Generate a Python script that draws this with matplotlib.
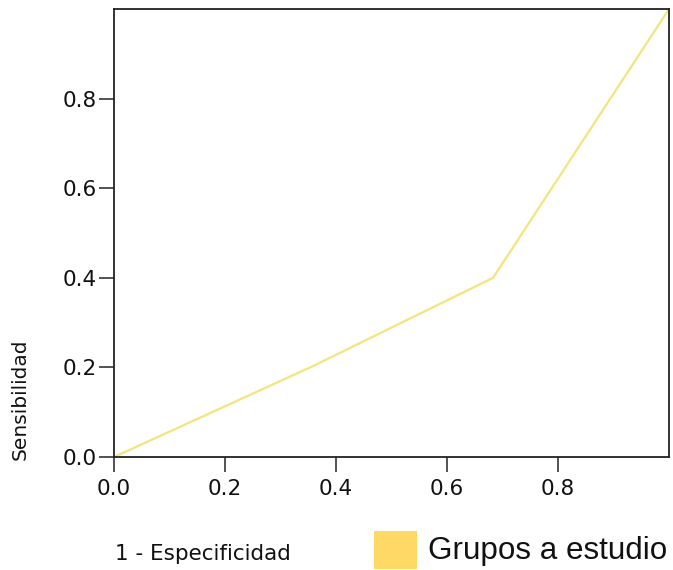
import matplotlib
matplotlib.use("Agg")
import matplotlib.pyplot as plt
from matplotlib.patches import Rectangle

# curva ROC (1 - especificidad, sensibilidad)
fpr = [0.0, 0.357, 0.683, 1.0]
tpr = [0.0, 0.202, 0.400, 1.0]
ticks = [0.0, 0.2, 0.4, 0.6, 0.8]
tick_txt = ["0.0", "0.2", "0.4", "0.6", "0.8"]
serie = "Grupos a estudio"

W, H = 673, 570
fig = plt.figure(figsize=(W / 100, H / 100), dpi=100)
ax = fig.add_axes([114 / W, (H - 457) / H, 555 / W, 448 / H])

ax.plot(fpr, tpr, color="#F3E57E", lw=1.6, solid_capstyle="butt")
ax.set_xlim(0, 1)
ax.set_ylim(0, 1)
ax.set_xticks(ticks, tick_txt)
ax.set_yticks(ticks, tick_txt)

for s in ax.spines.values():
    s.set_color("#222222")
    s.set_linewidth(1.3)
ax.tick_params(direction="out", length=11, width=1.3, color="#444444",
               labelsize=15.5, labelcolor="#111111")
ax.tick_params(axis="x", pad=4.5)
ax.tick_params(axis="y", pad=1.5)

# etiquetas de ejes
fig.text(20 / W, (H - 460) / H, "Sensibilidad", rotation=90, ha="center",
         va="bottom", fontsize=14.5, color="#111111")
fig.text(115 / W, (H - 554) / H, "1 - Especificidad", ha="left", va="center",
         fontsize=15.5, color="#111111")

# leyenda
fig.patches.append(Rectangle((374 / W, (H - 569) / H), 43 / W, 38 / H,
                             transform=fig.transFigure, facecolor="#FFD966",
                             edgecolor="none"))
fig.text(428 / W, (H - 551) / H, serie, ha="left", va="center", fontsize=22.6,
         family="Liberation Sans", color="#111111")

fig.savefig("out.png", dpi=100)
